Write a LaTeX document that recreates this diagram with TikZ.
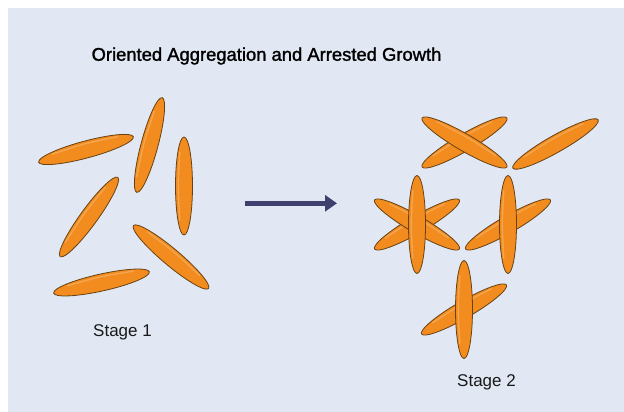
\documentclass[tikz,border=0pt]{standalone}
\usepackage{fontspec}
\setmainfont{Liberation Sans}
\newfontfamily\titlefont[FakeBold=1.4]{Liberation Sans}
\usetikzlibrary{arrows.meta}
\definecolor{bgblue}{RGB}{225,232,243}
\definecolor{rodfill}{RGB}{242,140,30}
\definecolor{rodline}{RGB}{105,65,20}
\definecolor{arrownavy}{RGB}{64,64,110}
\tikzset{
  rod/.style={fill=rodfill, draw=rodline, line width=0.8pt},
  rodhl/.style={draw=white, draw opacity=0.22, line width=1.4pt, line cap=round},
  labeltext/.style={font=\fontsize{17}{20}\selectfont, text=black!90, inner sep=0pt},
  flowarrow/.style={draw=arrownavy, line width=5.5pt, -{Triangle[length=12pt,width=16pt]}}
}
\newcommand\rodat[3]{%
  \begin{scope}[shift={(#1,#2)},rotate=#3]
    \draw[rod] (0,0) ellipse [x radius=49, y radius=8.5];
    \draw[rodhl] (-34,4.2) .. controls (0,6.2) .. (34,4.2);
  \end{scope}}
\begin{document}
\begin{tikzpicture}[x=1pt,y=1pt]
\useasboundingbox (0,0) rectangle (624,412);
\fill[bgblue] (8,0) rectangle (624,404);
\node[font=\titlefont\fontsize{18.4}{21}\selectfont, inner sep=0pt] (title) at (266.5,356) {Oriented Aggregation and Arrested Growth};
% Stage 1: separate rods
\rodat{86}{262.5}{15}
\rodat{149.5}{267}{75}
\rodat{184}{226}{90}
\rodat{89}{195}{54}
\rodat{171}{155}{-40}
\rodat{101.5}{129.5}{12.5}
% Stage 2: aggregated rods
\rodat{464.5}{269.5}{30}
\rodat{464.5}{269.5}{-30}
\rodat{555.5}{268}{29.5}
\rodat{417}{187.5}{30}
\rodat{417}{187.5}{-30}
\rodat{417}{187.5}{90}
\rodat{508}{187.5}{30}
\rodat{508}{187.5}{90}
\rodat{464}{102.5}{30}
\rodat{464}{102.5}{90}
% labels
\node[labeltext] (s1) at (122.5,80) {Stage 1};
\node[labeltext] (s2) at (486.5,30) {Stage 2};
% arrow
\coordinate (arrA) at (245,208.7);
\coordinate (arrB) at (337,208.7);
\draw[flowarrow] (arrA) -- (arrB);
\end{tikzpicture}
\end{document}
